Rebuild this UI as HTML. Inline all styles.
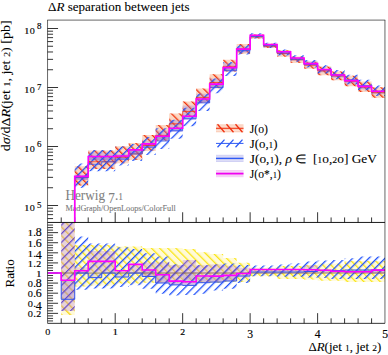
<!DOCTYPE html>
<html><head><meta charset="utf-8"><style>
html,body{margin:0;padding:0;background:#fff;}
svg{display:block;}
</style></head><body>
<svg width="388" height="355" viewBox="0 0 388 355">
<text x="65.4" y="199.7" font-family="Liberation Serif" stroke="currentColor" stroke-width="0.08" font-size="13.6" fill="#808080" color="#808080" textLength="57.6" lengthAdjust="spacingAndGlyphs">Herwig <tspan dy="3.1">7</tspan><tspan dy="-3.1">.</tspan><tspan font-size="9.8">1</tspan></text>
<text x="65.4" y="211.3" font-family="Liberation Serif" stroke="currentColor" stroke-width="0.08" font-size="8.0" fill="#777" color="#777" textLength="110.4" lengthAdjust="spacingAndGlyphs">MadGraph/OpenLoops/ColorFull</text>
<path d="M47.55 218.59h5.5M47.55 214.64h5.5M47.55 211.22h5.5M47.55 208.20h5.5M47.55 205.50h10.5M47.55 187.74h5.5M47.55 177.35h5.5M47.55 169.98h5.5M47.55 164.26h5.5M47.55 159.59h5.5M47.55 155.64h5.5M47.55 152.22h5.5M47.55 149.20h5.5M47.55 146.50h10.5M47.55 128.74h5.5M47.55 118.35h5.5M47.55 110.98h5.5M47.55 105.26h5.5M47.55 100.59h5.5M47.55 96.64h5.5M47.55 93.22h5.5M47.55 90.20h5.5M47.55 87.50h10.5M47.55 69.74h5.5M47.55 59.35h5.5M47.55 51.98h5.5M47.55 46.26h5.5M47.55 41.59h5.5M47.55 37.64h5.5M47.55 34.22h5.5M47.55 31.20h5.5M47.55 28.50h10.5M61.22 222.45v-5M61.22 323.35v-5M74.72 222.45v-5M74.72 323.35v-5M88.21 222.45v-5M88.21 323.35v-5M101.71 222.45v-5M101.71 323.35v-5M115.20 222.45v-10.2M115.20 323.35v-10.2M128.69 222.45v-5M128.69 323.35v-5M142.19 222.45v-5M142.19 323.35v-5M155.68 222.45v-5M155.68 323.35v-5M169.18 222.45v-5M169.18 323.35v-5M182.67 222.45v-10.2M182.67 323.35v-10.2M196.16 222.45v-5M196.16 323.35v-5M209.66 222.45v-5M209.66 323.35v-5M223.15 222.45v-5M223.15 323.35v-5M236.65 222.45v-5M236.65 323.35v-5M250.14 222.45v-10.2M250.14 323.35v-10.2M263.63 222.45v-5M263.63 323.35v-5M277.13 222.45v-5M277.13 323.35v-5M290.62 222.45v-5M290.62 323.35v-5M304.12 222.45v-5M304.12 323.35v-5M317.61 222.45v-10.2M317.61 323.35v-10.2M331.10 222.45v-5M331.10 323.35v-5M344.60 222.45v-5M344.60 323.35v-5M358.09 222.45v-5M358.09 323.35v-5M371.59 222.45v-5M371.59 323.35v-5M47.55 320.93h5.5M47.55 318.40h5.5M47.55 315.88h5.5M47.55 313.36h10.5M47.55 310.84h5.5M47.55 308.31h5.5M47.55 305.79h5.5M47.55 303.27h10.5M47.55 300.75h5.5M47.55 298.22h5.5M47.55 295.70h5.5M47.55 293.18h10.5M47.55 290.66h5.5M47.55 288.13h5.5M47.55 285.61h5.5M47.55 283.09h10.5M47.55 280.57h5.5M47.55 278.04h5.5M47.55 275.52h5.5M47.55 273.00h10.5M47.55 270.48h5.5M47.55 267.95h5.5M47.55 265.43h5.5M47.55 262.91h10.5M47.55 260.39h5.5M47.55 257.87h5.5M47.55 255.34h5.5M47.55 252.82h10.5M47.55 250.30h5.5M47.55 247.77h5.5M47.55 245.25h5.5M47.55 242.73h10.5M47.55 240.21h5.5M47.55 237.68h5.5M47.55 235.16h5.5M47.55 232.64h10.5M47.55 230.12h5.5M47.55 227.59h5.5M47.55 225.07h5.5" stroke="#000" stroke-width="0.8" fill="none"/>
<defs>
<pattern id="hr" patternUnits="userSpaceOnUse" width="5.75" height="5.75" patternTransform="rotate(-45)"><rect x="0" y="0" width="1.3" height="5.75" fill="#f0320a"/></pattern>
<pattern id="hb" patternUnits="userSpaceOnUse" width="5.75" height="5.75" patternTransform="rotate(45)"><rect x="0" y="0" width="1.3" height="5.75" fill="#1e50fa"/></pattern>
<pattern id="hp" patternUnits="userSpaceOnUse" width="5.75" height="5.75" patternTransform="rotate(45)"><rect x="0" y="0" width="1.3" height="5.75" fill="#6446c8"/></pattern>
<pattern id="hp2" patternUnits="userSpaceOnUse" width="6.1" height="6.1" patternTransform="translate(0 1) rotate(45)"><rect x="0" y="0" width="1.2" height="6.1" fill="#6446c8"/></pattern>
<pattern id="hy2" patternUnits="userSpaceOnUse" width="6.2" height="6.2" patternTransform="rotate(-45)"><rect x="0" y="0" width="1.5" height="6.2" fill="#f8d828"/></pattern>
<pattern id="hy" patternUnits="userSpaceOnUse" width="5.75" height="5.75" patternTransform="rotate(-45)"><rect x="0" y="0" width="1.3" height="5.75" fill="#fae614"/></pattern>
<clipPath id="cm"><rect x="47.55" y="20.1" width="337.4" height="202.35"/></clipPath>
<clipPath id="cr"><rect x="47.55" y="222.45" width="337.4" height="100.9"/></clipPath>
</defs>
<g clip-path="url(#cm)"><path d="M74.72 166.20H88.21V185.52H74.72ZM88.21 150.49H101.71V169.03H88.21ZM101.71 150.49H115.20V169.03H101.71ZM115.20 146.24H128.69V163.14H115.20ZM128.69 143.08H142.19V159.98H128.69ZM142.19 135.10H155.68V150.91H142.19ZM155.68 125.09H169.18V140.71H155.68ZM169.18 113.54H182.67V129.16H169.18ZM182.67 101.48H196.16V117.11H182.67ZM196.16 88.62H209.66V103.09H196.16ZM209.66 74.25H223.15V88.14H209.66ZM223.15 59.64H236.65V71.39H223.15ZM236.65 44.08H250.14V53.82H236.65ZM250.14 34.41H263.63V38.60H250.14ZM263.63 43.71H277.13V47.90H263.63ZM277.13 50.23H290.62V56.76H277.13ZM290.62 56.43H304.12V62.96H290.62ZM304.12 61.40H317.61V68.71H304.12ZM317.61 66.59H331.10V75.13H317.61ZM331.10 71.61H344.60V80.14H331.10ZM344.60 75.78H358.09V86.23H344.60ZM358.09 81.58H371.59V92.03H358.09ZM371.59 87.26H385.08V97.71H371.59Z" fill="#fcd7c3"/><path d="M74.72 166.20H88.21V185.52H74.72ZM88.21 150.49H101.71V169.03H88.21ZM101.71 150.49H115.20V169.03H101.71ZM115.20 146.24H128.69V163.14H115.20ZM128.69 143.08H142.19V159.98H128.69ZM142.19 135.10H155.68V150.91H142.19ZM155.68 125.09H169.18V140.71H155.68ZM169.18 113.54H182.67V129.16H169.18ZM182.67 101.48H196.16V117.11H182.67ZM196.16 88.62H209.66V103.09H196.16ZM209.66 74.25H223.15V88.14H209.66ZM223.15 59.64H236.65V71.39H223.15ZM236.65 44.08H250.14V53.82H236.65ZM250.14 34.41H263.63V38.60H250.14ZM263.63 43.71H277.13V47.90H263.63ZM277.13 50.23H290.62V56.76H277.13ZM290.62 56.43H304.12V62.96H290.62ZM304.12 61.40H317.61V68.71H304.12ZM317.61 66.59H331.10V75.13H317.61ZM331.10 71.61H344.60V80.14H331.10ZM344.60 75.78H358.09V86.23H344.60ZM358.09 81.58H371.59V92.03H358.09ZM371.59 87.26H385.08V97.71H371.59Z" fill="url(#hr)"/><path d="M74.72 174.75H88.21V179.40H74.72ZM88.21 152.56H101.71V161.30H88.21ZM101.71 152.56H115.20V161.30H101.71ZM115.20 154.12H128.69V159.00H115.20ZM128.69 149.90H142.19V153.98H128.69ZM142.19 140.49H155.68V147.22H142.19ZM155.68 130.44H169.18V141.03H155.68ZM169.18 120.09H182.67V131.30H169.18ZM182.67 105.62H196.16V119.30H182.67ZM196.16 93.75H209.66V102.90H196.16ZM209.66 78.53H223.15V87.57H209.66ZM223.15 62.93H236.65V70.78H223.15ZM236.65 46.33H250.14V52.10H236.65ZM250.14 35.20H263.63V38.20H250.14ZM263.63 44.50H277.13V47.50H263.63ZM277.13 52.04H290.62V54.80H277.13ZM290.62 58.24H304.12V61.00H290.62ZM304.12 61.62H317.61V66.60H304.12ZM317.61 68.93H331.10V72.50H317.61ZM331.10 74.42H344.60V78.00H331.10ZM344.60 79.77H358.09V83.60H344.60ZM358.09 85.57H371.59V89.40H358.09ZM371.59 91.25H385.08V94.30H371.59Z" fill="#9a80d8" fill-opacity="0.35"/><path d="M74.72 176.40H88.21V179.90H74.72ZM88.21 156.50H101.71V160.00H88.21ZM101.71 156.50H115.20V160.00H101.71ZM115.20 156.00H128.69V159.50H115.20ZM128.69 149.90H142.19V153.40H128.69ZM142.19 143.90H155.68V147.40H142.19ZM155.68 136.30H169.18V139.80H155.68ZM169.18 128.30H182.67V131.80H169.18ZM182.67 116.30H196.16V119.80H182.67ZM196.16 99.00H209.66V102.50H196.16ZM209.66 84.10H223.15V87.60H209.66ZM223.15 67.60H236.65V71.10H223.15ZM236.65 49.10H250.14V52.60H236.65ZM250.14 35.20H263.63V37.20H250.14ZM263.63 44.50H277.13V46.50H263.63ZM277.13 51.80H290.62V53.80H277.13ZM290.62 58.00H304.12V60.00H290.62ZM304.12 63.60H317.61V65.60H304.12ZM317.61 69.50H331.10V71.50H317.61ZM331.10 75.00H344.60V77.00H331.10ZM344.60 80.60H358.09V82.60H344.60ZM358.09 86.40H371.59V88.40H358.09ZM371.59 91.30H385.08V93.30H371.59Z" fill="#6e50d2" fill-opacity="0.35"/><path d="M74.72 163.59H88.21V187.84H74.72ZM88.21 150.04H101.71V171.21H88.21ZM101.71 150.04H115.20V171.21H101.71ZM115.20 146.54H128.69V165.42H115.20ZM128.69 143.96H142.19V161.09H128.69ZM142.19 136.90H155.68V154.93H142.19ZM155.68 128.16H169.18V148.90H155.68ZM169.18 119.70H182.67V138.86H169.18ZM182.67 107.68H196.16V126.13H182.67ZM196.16 93.75H209.66V110.96H196.16ZM209.66 78.53H223.15V93.31H209.66ZM223.15 61.93H236.65V75.90H223.15ZM236.65 45.07H250.14V54.51H236.65ZM250.14 33.37H263.63V38.60H250.14ZM263.63 42.67H277.13V47.90H263.63ZM277.13 49.49H290.62V55.53H277.13ZM290.62 55.21H304.12V61.73H290.62ZM304.12 59.91H317.61V67.57H304.12ZM317.61 65.21H331.10V73.50H317.61ZM331.10 69.98H344.60V79.14H331.10ZM344.60 74.66H358.09V84.50H344.60ZM358.09 79.80H371.59V90.30H358.09ZM371.59 85.48H385.08V95.98H371.59Z" fill="url(#hb)"/><path d="M61.22 236.05H74.72V177.54H88.21V161.80H101.71V161.80H115.20V157.09H128.69V153.93H142.19V145.38H155.68V135.37H169.18V123.82H182.67V111.45H196.16V97.43H209.66V82.48H223.15V66.35H236.65V48.84H250.14V36.92H263.63V46.22H277.13V53.52H290.62V59.72H304.12V65.18H317.61V70.88H331.10V75.90H344.60V81.25H358.09V87.05H371.59V92.73H385.08" fill="none" stroke="#ff2a00" stroke-width="0.7"/><path d="M61.22 254.93H74.72V177.54H88.21V164.25H101.71V161.80H115.20V159.21H128.69V153.98H142.19V147.22H155.68V141.03H169.18V130.71H182.67V118.68H196.16V102.90H209.66V87.57H223.15V70.78H236.65V50.42H250.14V36.42H263.63V45.72H277.13V53.02H290.62V59.22H304.12V64.43H317.61V69.69H331.10V74.71H344.60V79.77H358.09V85.57H371.59V91.25H385.08" fill="none" stroke="#3355ee" stroke-width="0.8"/><path d="M61.22 240.00H74.72V176.40H88.21V156.50H101.71V156.50H115.20V156.00H128.69V149.90H142.19V143.90H155.68V136.30H169.18V128.30H182.67V116.30H196.16V99.00H209.66V84.10H223.15V67.60H236.65V49.10H250.14V35.20H263.63V44.50H277.13V51.80H290.62V58.00H304.12V63.60H317.61V69.50H331.10V75.00H344.60V80.60H358.09V86.40H371.59V91.30H385.08" fill="none" stroke="#ff00ff" stroke-width="1.6"/></g>
<g clip-path="url(#cr)"><path d="M61.22 200.00H74.72V315.00H61.22ZM74.72 244.90H88.21V286.50H74.72ZM88.21 245.00H101.71V285.40H88.21ZM101.71 245.00H115.20V285.40H101.71ZM115.20 246.40H128.69V283.60H115.20ZM128.69 246.40H142.19V283.60H128.69ZM142.19 248.10H155.68V282.80H142.19ZM155.68 248.10H169.18V282.50H155.68ZM169.18 248.10H182.67V282.50H169.18ZM182.67 249.00H196.16V283.00H182.67ZM196.16 252.30H209.66V283.00H196.16ZM209.66 253.90H223.15V283.00H209.66ZM223.15 257.90H236.65V282.00H223.15ZM236.65 262.70H250.14V281.90H236.65ZM250.14 267.80H263.63V276.20H250.14ZM263.63 267.80H277.13V276.20H263.63ZM277.13 266.10H290.62V279.00H277.13ZM290.62 266.10H304.12V279.00H290.62ZM304.12 265.00H317.61V279.50H304.12ZM317.61 263.80H331.10V280.70H317.61ZM331.10 263.80H344.60V280.70H331.10ZM344.60 261.00H358.09V281.90H344.60ZM358.09 261.00H371.59V281.90H358.09ZM371.59 261.00H385.08V281.90H371.59Z" fill="#fffad8"/><path d="M74.72 244.90H88.21V286.50H74.72ZM88.21 245.00H101.71V285.40H88.21ZM101.71 245.00H115.20V285.40H101.71ZM115.20 246.40H128.69V283.60H115.20ZM128.69 246.40H142.19V283.60H128.69ZM142.19 248.10H155.68V282.80H142.19ZM155.68 248.10H169.18V282.50H155.68ZM169.18 248.10H182.67V282.50H169.18ZM182.67 249.00H196.16V283.00H182.67ZM196.16 252.30H209.66V283.00H196.16ZM209.66 253.90H223.15V283.00H209.66ZM223.15 257.90H236.65V282.00H223.15ZM236.65 262.70H250.14V281.90H236.65ZM250.14 267.80H263.63V276.20H250.14ZM263.63 267.80H277.13V276.20H263.63ZM277.13 266.10H290.62V279.00H277.13ZM290.62 266.10H304.12V279.00H290.62ZM304.12 265.00H317.61V279.50H304.12ZM317.61 263.80H331.10V280.70H317.61ZM331.10 263.80H344.60V280.70H331.10ZM344.60 261.00H358.09V281.90H344.60ZM358.09 261.00H371.59V281.90H358.09ZM371.59 261.00H385.08V281.90H371.59Z" fill="url(#hy)"/><path d="M74.72 236.50H88.21V289.70H74.72ZM88.21 243.60H101.71V288.50H88.21ZM101.71 243.60H115.20V288.50H101.71ZM115.20 247.30H128.69V287.00H115.20ZM128.69 249.00H142.19V285.30H128.69ZM142.19 253.20H155.68V288.70H142.19ZM155.68 256.60H169.18V293.70H155.68ZM169.18 264.20H182.67V295.40H169.18ZM182.67 265.00H196.16V295.00H182.67ZM196.16 265.20H209.66V293.70H196.16ZM209.66 264.60H223.15V290.40H209.66ZM223.15 263.50H236.65V288.70H223.15ZM236.65 265.00H250.14V283.00H236.65ZM250.14 265.50H263.63V276.20H250.14ZM263.63 265.50H277.13V276.20H263.63ZM277.13 264.40H290.62V276.80H277.13ZM290.62 263.30H304.12V276.80H290.62ZM304.12 261.50H317.61V277.50H304.12ZM317.61 260.50H331.10V277.90H317.61ZM331.10 259.90H344.60V279.00H331.10ZM344.60 258.20H358.09V279.00H344.60ZM358.09 256.50H371.59V279.00H358.09ZM371.59 256.50H385.08V279.00H371.59Z" fill="url(#hb)"/><path d="M61.22 222H74.72V315H61.22Z" fill="url(#hy2)"/><path d="M61.22 200.00H74.72V311.00H61.22ZM74.72 267.20H88.21V273.90H74.72ZM88.21 251.10H101.71V272.00H88.21ZM101.71 251.10H115.20V272.00H101.71ZM128.69 264.40H142.19V273.10H128.69ZM142.19 262.40H155.68V276.50H142.19ZM155.68 262.30H169.18V283.00H155.68ZM169.18 265.10H182.67V284.90H169.18ZM182.67 260.10H196.16V285.40H182.67ZM196.16 265.20H209.66V282.70H196.16ZM209.66 264.60H223.15V282.10H209.66ZM223.15 265.80H236.65V281.00H223.15ZM236.65 267.80H250.14V277.40H236.65ZM250.14 269.50H263.63V273.40H250.14ZM263.63 269.50H277.13V273.40H263.63ZM277.13 270.00H290.62V273.40H277.13ZM290.62 270.00H304.12V273.40H290.62ZM304.12 265.50H317.61V273.20H304.12ZM317.61 269.00H331.10V273.00H317.61ZM331.10 270.00H344.60V273.00H331.10ZM344.60 270.00H358.09V273.00H344.60ZM358.09 270.00H371.59V273.00H358.09ZM371.59 270.00H385.08V273.40H371.59Z" fill="#c18ed5" fill-opacity="0.37"/><path d="M61.22 280.30H74.72V299.30H61.22ZM88.21 273.00H101.71V277.60H88.21ZM115.20 272.00H128.69V277.00H115.20ZM142.19 270.00H155.68V276.50H142.19ZM155.68 274.60H169.18V283.00H155.68ZM169.18 281.10H182.67V284.90H169.18ZM182.67 272.00H196.16V285.40H182.67ZM196.16 277.00H209.66V282.70H196.16ZM209.66 277.00H223.15V282.10H209.66ZM223.15 275.40H236.65V281.00H223.15ZM371.59 270.00H385.08V273.40H371.59Z" fill="#6e5ad2" fill-opacity="0.18"/><path d="M74.72 267.20H88.21V273.90H74.72ZM88.21 251.10H101.71V272.00H88.21ZM101.71 251.10H115.20V272.00H101.71ZM128.69 264.40H142.19V273.10H128.69ZM142.19 262.40H155.68V276.50H142.19ZM155.68 262.30H169.18V283.00H155.68ZM169.18 265.10H182.67V284.90H169.18ZM182.67 260.10H196.16V285.40H182.67ZM196.16 265.20H209.66V282.70H196.16ZM209.66 264.60H223.15V282.10H209.66ZM223.15 265.80H236.65V281.00H223.15ZM236.65 267.80H250.14V277.40H236.65ZM250.14 269.50H263.63V273.40H250.14ZM263.63 269.50H277.13V273.40H263.63ZM277.13 270.00H290.62V273.40H277.13ZM290.62 270.00H304.12V273.40H290.62ZM304.12 265.50H317.61V273.20H304.12ZM317.61 269.00H331.10V273.00H317.61ZM331.10 270.00H344.60V273.00H331.10ZM344.60 270.00H358.09V273.00H344.60ZM358.09 270.00H371.59V273.00H358.09ZM371.59 270.00H385.08V273.40H371.59Z" fill="url(#hp)" fill-opacity="0.8"/><path d="M61.22 222H74.72V311H61.22Z" fill="url(#hp2)"/><path d="M47.55 273.00H384.95" stroke="#806040" stroke-width="0.8"/><path d="M47.73 273.00H61.22V299.30H74.72V273.00H88.21V277.60H101.71V273.00H115.20V277.00H128.69V273.10H142.19V276.50H155.68V283.00H169.18V284.90H182.67V285.40H196.16V282.70H209.66V282.10H223.15V281.00H236.65V276.00H250.14V272.00H263.63V272.00H277.13V272.00H290.62V272.00H304.12V271.50H317.61V270.60H331.10V270.60H344.60V270.00H358.09V270.00H371.59V270.00H385.08" fill="none" stroke="#3355ee" stroke-width="1"/><path d="M47.73 273.00H61.22V280.20H74.72V270.70H88.21V261.40H101.71V261.40H115.20V270.80H128.69V264.40H142.19V270.00H155.68V274.80H169.18V281.10H182.67V281.70H196.16V276.00H209.66V276.10H223.15V275.40H236.65V273.50H250.14V269.50H263.63V269.50H277.13V269.50H290.62V269.50H304.12V269.80H317.61V270.20H331.10V271.20H344.60V271.70H358.09V271.70H371.59V270.10H385.08" fill="none" stroke="#ff00ff" stroke-width="1.6"/></g>
<path d="M47.25 20.1H385.25M384.95 20.1V323.35M47.55 20.1V323.35" fill="none" stroke="#000" stroke-width="0.6"/>
<path d="M47.55 222.45H384.95" stroke="#000" stroke-width="0.9"/>
<path d="M47.55 323.35H384.95" stroke="#000" stroke-width="0.8"/>
<text x="48" y="11.2" font-family="Liberation Serif" stroke="currentColor" stroke-width="0.08" font-size="12.9" textLength="141.5" lengthAdjust="spacingAndGlyphs">Δ<tspan font-style="italic">R</tspan> separation between jets</text>
<text x="24.00" y="33.50" font-family="Liberation Serif" stroke="currentColor" font-size="8.17" textLength="5.50" lengthAdjust="spacingAndGlyphs" stroke-width="0.16">1</text><text x="29.72" y="33.50" font-family="Liberation Serif" stroke="currentColor" font-size="11.98" textLength="5.06" lengthAdjust="spacingAndGlyphs" stroke-width="0.16">o</text>
<text x="39.30" y="29.40" font-family="Liberation Serif" stroke="currentColor" font-size="8.91" text-anchor="middle" stroke-width="0.16">8</text>
<text x="24.00" y="92.50" font-family="Liberation Serif" stroke="currentColor" font-size="8.17" textLength="5.50" lengthAdjust="spacingAndGlyphs" stroke-width="0.16">1</text><text x="29.72" y="92.50" font-family="Liberation Serif" stroke="currentColor" font-size="11.98" textLength="5.06" lengthAdjust="spacingAndGlyphs" stroke-width="0.16">o</text>
<text x="39.30" y="90.33" font-family="Liberation Serif" stroke="currentColor" font-size="8.91" text-anchor="middle" stroke-width="0.16">7</text>
<text x="24.00" y="151.50" font-family="Liberation Serif" stroke="currentColor" font-size="8.17" textLength="5.50" lengthAdjust="spacingAndGlyphs" stroke-width="0.16">1</text><text x="29.72" y="151.50" font-family="Liberation Serif" stroke="currentColor" font-size="11.98" textLength="5.06" lengthAdjust="spacingAndGlyphs" stroke-width="0.16">o</text>
<text x="39.30" y="147.40" font-family="Liberation Serif" stroke="currentColor" font-size="8.91" text-anchor="middle" stroke-width="0.16">6</text>
<text x="24.00" y="210.50" font-family="Liberation Serif" stroke="currentColor" font-size="8.17" textLength="5.50" lengthAdjust="spacingAndGlyphs" stroke-width="0.16">1</text><text x="29.72" y="210.50" font-family="Liberation Serif" stroke="currentColor" font-size="11.98" textLength="5.06" lengthAdjust="spacingAndGlyphs" stroke-width="0.16">o</text>
<text x="39.30" y="208.33" font-family="Liberation Serif" stroke="currentColor" font-size="8.91" text-anchor="middle" stroke-width="0.16">5</text>
<text x="27.60" y="236.44" font-family="Liberation Serif" stroke="currentColor" font-size="8.32" textLength="5.60" lengthAdjust="spacingAndGlyphs" stroke-width="0.16">1</text><text x="34.60" y="236.44" font-family="Liberation Serif" stroke="currentColor" font-size="11.20" text-anchor="middle" stroke-width="0.16">.</text><text x="38.80" y="236.44" font-family="Liberation Serif" stroke="currentColor" font-size="11.88" text-anchor="middle" stroke-width="0.16">8</text>
<text x="27.60" y="246.53" font-family="Liberation Serif" stroke="currentColor" font-size="8.32" textLength="5.60" lengthAdjust="spacingAndGlyphs" stroke-width="0.16">1</text><text x="34.60" y="246.53" font-family="Liberation Serif" stroke="currentColor" font-size="11.20" text-anchor="middle" stroke-width="0.16">.</text><text x="38.80" y="246.53" font-family="Liberation Serif" stroke="currentColor" font-size="11.88" text-anchor="middle" stroke-width="0.16">6</text>
<text x="27.60" y="256.62" font-family="Liberation Serif" stroke="currentColor" font-size="8.32" textLength="5.60" lengthAdjust="spacingAndGlyphs" stroke-width="0.16">1</text><text x="34.60" y="256.62" font-family="Liberation Serif" stroke="currentColor" font-size="11.20" text-anchor="middle" stroke-width="0.16">.</text><text x="38.80" y="259.20" font-family="Liberation Serif" stroke="currentColor" font-size="11.88" text-anchor="middle" stroke-width="0.16">4</text>
<text x="27.60" y="266.71" font-family="Liberation Serif" stroke="currentColor" font-size="8.32" textLength="5.60" lengthAdjust="spacingAndGlyphs" stroke-width="0.16">1</text><text x="34.60" y="266.71" font-family="Liberation Serif" stroke="currentColor" font-size="11.20" text-anchor="middle" stroke-width="0.16">.</text><text x="36.34" y="266.71" font-family="Liberation Serif" stroke="currentColor" font-size="8.32" textLength="4.93" lengthAdjust="spacingAndGlyphs" stroke-width="0.16">2</text>
<text x="36.00" y="276.80" font-family="Liberation Serif" stroke="currentColor" font-size="8.32" textLength="5.60" lengthAdjust="spacingAndGlyphs" stroke-width="0.16">1</text>
<text x="27.82" y="286.89" font-family="Liberation Serif" stroke="currentColor" font-size="12.20" textLength="5.15" lengthAdjust="spacingAndGlyphs" stroke-width="0.16">o</text><text x="34.60" y="286.89" font-family="Liberation Serif" stroke="currentColor" font-size="11.20" text-anchor="middle" stroke-width="0.16">.</text><text x="38.80" y="286.89" font-family="Liberation Serif" stroke="currentColor" font-size="11.88" text-anchor="middle" stroke-width="0.16">8</text>
<text x="27.82" y="296.98" font-family="Liberation Serif" stroke="currentColor" font-size="12.20" textLength="5.15" lengthAdjust="spacingAndGlyphs" stroke-width="0.16">o</text><text x="34.60" y="296.98" font-family="Liberation Serif" stroke="currentColor" font-size="11.20" text-anchor="middle" stroke-width="0.16">.</text><text x="38.80" y="296.98" font-family="Liberation Serif" stroke="currentColor" font-size="11.88" text-anchor="middle" stroke-width="0.16">6</text>
<text x="27.82" y="307.07" font-family="Liberation Serif" stroke="currentColor" font-size="12.20" textLength="5.15" lengthAdjust="spacingAndGlyphs" stroke-width="0.16">o</text><text x="34.60" y="307.07" font-family="Liberation Serif" stroke="currentColor" font-size="11.20" text-anchor="middle" stroke-width="0.16">.</text><text x="38.80" y="309.65" font-family="Liberation Serif" stroke="currentColor" font-size="11.88" text-anchor="middle" stroke-width="0.16">4</text>
<text x="27.82" y="317.16" font-family="Liberation Serif" stroke="currentColor" font-size="12.20" textLength="5.15" lengthAdjust="spacingAndGlyphs" stroke-width="0.16">o</text><text x="34.60" y="317.16" font-family="Liberation Serif" stroke="currentColor" font-size="11.20" text-anchor="middle" stroke-width="0.16">.</text><text x="36.34" y="317.16" font-family="Liberation Serif" stroke="currentColor" font-size="8.32" textLength="4.93" lengthAdjust="spacingAndGlyphs" stroke-width="0.16">2</text>
<text x="45.20" y="335.20" font-family="Liberation Serif" stroke="currentColor" font-size="11.98" textLength="5.06" lengthAdjust="spacingAndGlyphs" stroke-width="0.16">o</text>
<text x="112.45" y="335.20" font-family="Liberation Serif" stroke="currentColor" font-size="8.17" textLength="5.50" lengthAdjust="spacingAndGlyphs" stroke-width="0.16">1</text>
<text x="180.25" y="335.20" font-family="Liberation Serif" stroke="currentColor" font-size="8.17" textLength="4.84" lengthAdjust="spacingAndGlyphs" stroke-width="0.16">2</text>
<text x="250.14" y="337.73" font-family="Liberation Serif" stroke="currentColor" font-size="11.67" text-anchor="middle" stroke-width="0.16">3</text>
<text x="317.61" y="337.73" font-family="Liberation Serif" stroke="currentColor" font-size="11.67" text-anchor="middle" stroke-width="0.16">4</text>
<text x="385.08" y="337.73" font-family="Liberation Serif" stroke="currentColor" font-size="11.67" text-anchor="middle" stroke-width="0.16">5</text>
<text x="308.5" y="351.0" font-family="Liberation Serif" stroke="currentColor" stroke-width="0.08" font-size="12.4" textLength="72.8" lengthAdjust="spacingAndGlyphs">Δ<tspan font-style="italic">R</tspan>(jet <tspan font-size="9.2">1</tspan>, jet <tspan font-size="9.2">2</tspan>)</text>
<text transform="translate(9.7,151.2) rotate(-90)" font-family="Liberation Serif" stroke="currentColor" stroke-width="0.08" font-size="12.2" textLength="130.8" lengthAdjust="spacingAndGlyphs">d<tspan font-style="italic">σ</tspan>/dΔ<tspan font-style="italic">R</tspan>(jet <tspan font-size="9">1</tspan>, jet <tspan font-size="9">2</tspan>) [pb]</text>
<text transform="translate(13.8,287.6) rotate(-90)" font-family="Liberation Serif" stroke="currentColor" stroke-width="0.08" font-size="12.5" textLength="28.4" lengthAdjust="spacingAndGlyphs">Ratio</text>
<rect x="216.0" y="124.30000000000001" width="27.5" height="8" fill="#fbd0bc"/><path d="M216.0 126.10000000000001H243.5M216.0 130.5H243.5" stroke="#fff" stroke-opacity="0.45" stroke-width="0.8"/><path d="M216.0 128.3H243.5" stroke="#f03010" stroke-width="1"/><path d="M217.5 124.30000000000001l7 8M226.5 124.30000000000001l7 8M235.5 124.30000000000001l7 8" stroke="#f03010" stroke-width="1.3"/><path d="M216.0 143.4H243.5" stroke="#2d5af5" stroke-width="1"/><path d="M217.5 147.20000000000002l7 -7.6M226.5 147.20000000000002l7 -7.6M235.5 147.20000000000002l7 -7.6" stroke="#2d5af5" stroke-width="1.3"/><rect x="216.0" y="154.8" width="27.5" height="7.2" fill="#d0d0f4"/><path d="M216.0 156.20000000000002H243.5M216.0 160.6H243.5" stroke="#fff" stroke-opacity="0.4" stroke-width="0.8"/><path d="M216.0 158.4H243.5" stroke="#2d5af5" stroke-width="1.3"/><rect x="216.0" y="170.0" width="27.5" height="7.2" fill="#f4c8f4"/><path d="M216.0 171.2H243.5M216.0 176.0H243.5" stroke="#fff" stroke-opacity="0.4" stroke-width="0.8"/><path d="M216.0 173.6H243.5" stroke="#f000f0" stroke-width="1.7"/>
<text x="249.8" y="132.9" font-family="Liberation Serif" stroke="currentColor" stroke-width="0.08" font-size="12" xml:space="preserve" textLength="18.2" lengthAdjust="spacingAndGlyphs">J(o)</text>
<text x="249.8" y="147.8" font-family="Liberation Serif" stroke="currentColor" stroke-width="0.08" font-size="12" xml:space="preserve" textLength="27.8" lengthAdjust="spacingAndGlyphs">J(o,<tspan font-size="8.9">1</tspan>)</text>
<text x="249.8" y="162.5" font-family="Liberation Serif" stroke="currentColor" stroke-width="0.08" font-size="12" xml:space="preserve" textLength="127" lengthAdjust="spacingAndGlyphs">J(o,<tspan font-size="8.9">1</tspan>), <tspan font-style="italic">ρ</tspan> ∈  [<tspan font-size="8.9">1</tspan>o,<tspan font-size="8.9">2</tspan>o] GeV</text>
<text x="249.8" y="177.5" font-family="Liberation Serif" stroke="currentColor" stroke-width="0.08" font-size="12" xml:space="preserve" textLength="31" lengthAdjust="spacingAndGlyphs">J(o*,<tspan font-size="8.9">1</tspan>)</text>
</svg>
</body></html>
